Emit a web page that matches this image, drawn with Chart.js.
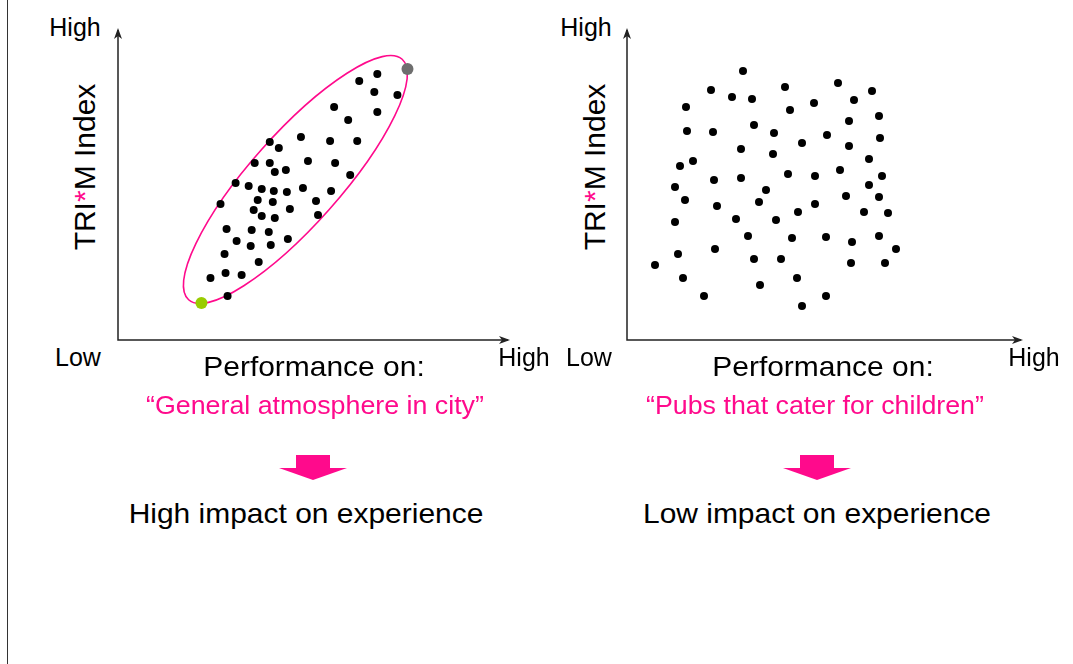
<!DOCTYPE html>
<html>
<head>
<meta charset="utf-8">
<title>TRI*M Index vs performance</title>
<script src="https://cdn.jsdelivr.net/npm/chart.js@4/dist/chart.umd.min.js"></script>
<style>
  html, body { margin: 0; padding: 0; background: #fff; }
  body { width: 1073px; height: 664px; position: relative; overflow: hidden;
         font-family: "Liberation Sans", Arial, sans-serif; color: #000; }
  .border { position: absolute; left: 7px; top: 0; width: 1px; height: 664px; background: #333; }
  canvas { position: absolute; }
  .lbl { position: absolute; white-space: nowrap; line-height: 1;
         transform: translate(-50%, -50%); }
  .axis-end { font-size: 25px; }
  .perf, .impact { font-size: 28px; transform: translate(-50%, -50%) scaleX(1.07); }
  .item { font-size: 26px; color: #ff0a8c; transform: translate(-50%, -50%) scaleX(1.03); }
  .ytitle { font-size: 30px; transform: translate(-50%, -50%) rotate(-90deg); }
  .ytitle span { color: #ff0a8c; }
  .down { position: absolute; width: 68px; height: 25px; }
  .down .shaft { position: absolute; left: 17px; top: 0; width: 34px; height: 13px; background: #ff0a8c; }
  .down .head { position: absolute; left: 0; top: 13px; width: 0; height: 0;
                border-left: 34px solid transparent; border-right: 34px solid transparent;
                border-top: 12px solid #ff0a8c; }
</style>
</head>
<body>
<div class="border"></div>

<canvas id="leftChart" width="412" height="332" style="left:108px; top:18px;"></canvas>
<canvas id="rightChart" width="416" height="332" style="left:617px; top:18px;"></canvas>

<!-- left panel text -->
<div class="lbl axis-end" style="left:75px; top:27px;">High</div>
<div class="lbl axis-end" style="left:78px; top:357px;">Low</div>
<div class="lbl axis-end" style="left:524px; top:357px;">High</div>
<div class="lbl ytitle" style="left:85px; top:167px;">TRI<span>*</span>M Index</div>
<div class="lbl perf" style="left:314px; top:367px;">Performance on:</div>
<div class="lbl item" style="left:315px; top:405px;">“General atmosphere in city”</div>
<div class="down" style="left:279px; top:455px;"><div class="shaft"></div><div class="head"></div></div>
<div class="lbl impact" style="left:306px; top:514px;">High impact on experience</div>

<!-- right panel text -->
<div class="lbl axis-end" style="left:586px; top:27px;">High</div>
<div class="lbl axis-end" style="left:589px; top:357px;">Low</div>
<div class="lbl axis-end" style="left:1034px; top:357px;">High</div>
<div class="lbl ytitle" style="left:595px; top:167px;">TRI<span>*</span>M Index</div>
<div class="lbl perf" style="left:823px; top:367px;">Performance on:</div>
<div class="lbl item" style="left:815px; top:405px;">“Pubs that cater for children”</div>
<div class="down" style="left:783px; top:455px;"><div class="shaft"></div><div class="head"></div></div>
<div class="lbl impact" style="left:817px; top:514px;">Low impact on experience</div>

<script>
  // Scores (performance, TRI*M index), arbitrary units
  var ATMOSPHERE_PERF = [258, 240, 255, 278, 215, 258, 229, 182, 211, 238, 151, 160,
    136, 151, 189, 216, 167, 156, 231, 117, 130, 143, 155, 168, 184, 212, 102, 139,
    154, 197, 135, 171, 143, 156, 199, 108, 133, 150, 118, 132, 152, 169, 106, 140,
    92, 107, 123, 109];
  var ATMOSPHERE_TRIM = [266, 259, 248, 245, 233, 228, 220, 203, 199, 199, 198, 192,
    177, 177, 179, 177, 170, 168, 165, 157, 154, 151, 149, 148, 152, 149, 136, 140,
    138, 139, 130, 131, 124, 122, 125, 111, 110, 108, 99, 94, 95, 101, 86, 78,
    62, 67, 65, 44];
  var LOWEST_POINT = { x: 83, y: 37 };
  var HIGHEST_POINT = { x: 288, y: 271 };
  // ellipse around the atmosphere cloud: centre, semi axes, tilt in degrees
  var CLOUD_ELLIPSE = { x: 176.5, y: 160.5, a: 160, b: 45, angle: 48.4 };

  var PUBS_PERF = [116, 84, 158, 211, 245, 105, 125, 59, 187, 227, 163, 252, 222,
    60, 86, 127, 147, 253, 175, 200, 222, 114, 146, 242, 53, 66, 213, 87, 114, 161,
    188, 255, 48, 242, 139, 219, 252, 58, 132, 90, 171, 188, 237, 261, 48, 109, 149,
    121, 165, 199, 225, 252, 269, 51, 88, 127, 154, 224, 258, 28, 56, 170, 133, 77,
    199, 175];
  var PUBS_TRIM = [269, 250, 253, 257, 249, 243, 241, 233, 237, 240, 230, 224, 219,
    209, 208, 215, 207, 202, 197, 205, 194, 191, 186, 181, 174, 179, 170, 160, 162,
    166, 164, 164, 153, 155, 150, 144, 143, 140, 138, 134, 128, 136, 128, 127, 118,
    121, 120, 104, 102, 103, 98, 104, 91, 86, 91, 81, 81, 77, 77, 75, 62, 62, 55, 44,
    44, 34];

  var Y_LENGTH = 312;

  function toPoints(xs, ys) {
    return xs.map(function (x, i) {
      return { x: x, y: ys[i] };
    });
  }

  var axesPlugin = {
    id: "arrowAxes",
    afterDraw: function (chart) {
      var ctx = chart.ctx;
      var area = chart.chartArea;
      var x0 = area.left, y0 = area.bottom;
      ctx.save();
      ctx.strokeStyle = "#222";
      ctx.fillStyle = "#222";
      ctx.lineWidth = 1.5;
      ctx.beginPath();
      ctx.moveTo(x0, area.top + 2);
      ctx.lineTo(x0, y0);
      ctx.lineTo(area.right - 2, y0);
      ctx.stroke();
      // arrow heads
      ctx.beginPath();
      ctx.moveTo(x0, area.top);
      ctx.lineTo(x0 - 4, area.top + 11);
      ctx.lineTo(x0, area.top + 8);
      ctx.lineTo(x0 + 4, area.top + 11);
      ctx.closePath();
      ctx.fill();
      ctx.beginPath();
      ctx.moveTo(area.right, y0);
      ctx.lineTo(area.right - 11, y0 - 4);
      ctx.lineTo(area.right - 8, y0);
      ctx.lineTo(area.right - 11, y0 + 4);
      ctx.closePath();
      ctx.fill();
      ctx.restore();
    },
  };

  var ellipsePlugin = {
    id: "cloudEllipse",
    beforeDatasetsDraw: function (chart, args, opts) {
      var e = opts.ellipse;
      if (!e) return;
      var xs = chart.scales.x, ys = chart.scales.y;
      var cx = xs.getPixelForValue(e.x);
      var cy = ys.getPixelForValue(e.y);
      var unit = xs.getPixelForValue(1) - xs.getPixelForValue(0);
      var ctx = chart.ctx;
      ctx.save();
      ctx.strokeStyle = "#ff0a8c";
      ctx.lineWidth = 1.6;
      ctx.beginPath();
      ctx.ellipse(cx, cy, e.a * unit, e.b * unit, -e.angle * Math.PI / 180, 0, Math.PI * 2);
      ctx.stroke();
      ctx.restore();
    },
  };

  function makeChart(id, datasets, xLength, ellipse) {
    return new Chart(document.getElementById(id), {
      type: "scatter",
      data: { datasets: datasets },
      options: {
        responsive: false,
        animation: false,
        devicePixelRatio: 1,
        layout: { padding: 10 },
        plugins: {
          legend: { display: false },
          tooltip: { enabled: false },
          cloudEllipse: { ellipse: ellipse },
        },
        scales: {
          x: { type: "linear", min: 0, max: xLength, display: false },
          y: { type: "linear", min: 0, max: Y_LENGTH, display: false },
        },
      },
      plugins: [ellipsePlugin, axesPlugin],
    });
  }

  function dots(points, color, radius) {
    return {
      data: points,
      backgroundColor: color,
      borderColor: color,
      borderWidth: 0,
      pointRadius: radius,
      pointHoverRadius: radius,
    };
  }

  makeChart("leftChart", [
    dots(toPoints(ATMOSPHERE_PERF, ATMOSPHERE_TRIM), "#000", 4),
    dots([LOWEST_POINT], "#99cc00", 6),
    dots([HIGHEST_POINT], "#6e6e6e", 6),
  ], 390, CLOUD_ELLIPSE);

  makeChart("rightChart", [
    dots(toPoints(PUBS_PERF, PUBS_TRIM), "#000", 4),
  ], 396, null);
</script>
</body>
</html>
